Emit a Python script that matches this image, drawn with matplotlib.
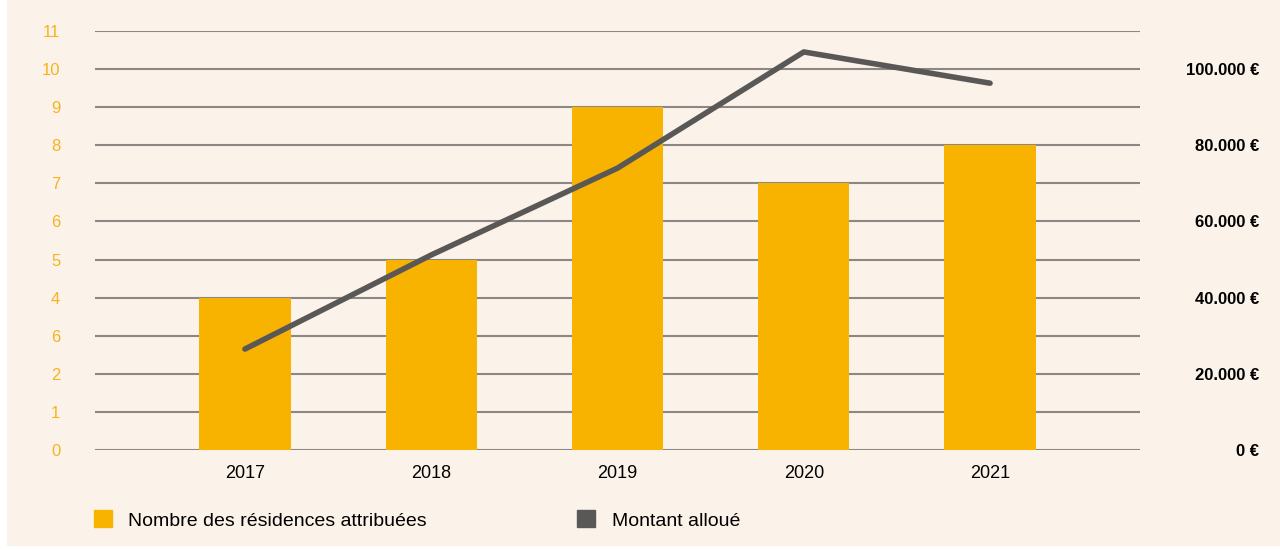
import matplotlib.pyplot as plt
import matplotlib as mpl
from matplotlib.patches import Patch
import numpy as np

mpl.rcParams.update({
    'font.family': ['Liberation Sans', 'DejaVu Sans'],
    'font.size': 12,
})

# Data
years = ['2017', '2018', '2019', '2020', '2021']
residences = [4, 5, 9, 7, 8]
montant = [26500, 51200, 74000, 104500, 96300]
left_ticks = list(range(0, 12))
left_tick_labels = ['0', '1', '2', '6', '4', '5', '6', '7', '8', '9', '10', '11']
right_ticks = [0, 20000, 40000, 60000, 80000, 100000]
right_tick_labels = ['0 €', '20.000 €', '40.000 €', '60.000 €', '80.000 €', '100.000 €']

bg = '#fbf3e9'
orange = '#f8b200'
dark = '#5a5856'
grid_col = '#8a8784'

fig = plt.figure(figsize=(12.8, 5.51), dpi=100)
fig.patch.set_facecolor('white')
bgax = fig.add_axes([7 / 1280, 5 / 551, 1 - 7 / 1280, 1 - 5 / 551])
bgax.set_facecolor(bg)
bgax.set_xticks([])
bgax.set_yticks([])
for s in bgax.spines.values():
    s.set_visible(False)

ax = fig.add_axes([95 / 1280, 1 - 450 / 551, (1140 - 95) / 1280, (450 - 31) / 551])
ax.set_facecolor('none')
x = np.arange(len(years))

for v in left_ticks:
    ax.axhline(v, color=grid_col, linewidth=1.5, zorder=0)

ax.bar(x, residences, width=0.49, color=orange, zorder=2)
ax.set_xlim(-0.805, 4.805)
ax.set_ylim(0, 11)
ax.set_yticks(left_ticks)
ax.set_yticklabels(left_tick_labels, color='#f9b21e', fontsize=12)
ax.set_xticks(x)
ax.set_xticklabels(years, fontsize=13)
ax.tick_params(axis='both', length=0)
ax.tick_params(axis='y', pad=25)
ax.tick_params(axis='x', pad=11)
for s in ax.spines.values():
    s.set_visible(False)

ax2 = ax.twinx()
ax2.plot(x, montant, color=dark, linewidth=4, solid_capstyle='round', zorder=3)
ax2.set_ylim(0, 110000)
ax2.set_yticks(right_ticks)
ax2.set_yticklabels(right_tick_labels, fontsize=12, fontweight='bold')
for lab in ax2.get_yticklabels():
    lab.set_horizontalalignment('right')
ax2.tick_params(axis='y', length=0, pad=86)
for s in ax2.spines.values():
    s.set_visible(False)

handles = [Patch(color=orange, label='Nombre des résidences attribuées'),
           Patch(color=dark, label='Montant alloué')]
fig.legend(handles=handles, loc='center left', bbox_to_anchor=(76 / 1280, 1 - 520 / 551),
           ncol=2, frameon=False, fontsize=14, handlelength=0.95, handleheight=0.95,
           handletextpad=0.85, columnspacing=7.7)

plt.savefig('out.png', dpi=100, facecolor=fig.get_facecolor())
plt.close()
